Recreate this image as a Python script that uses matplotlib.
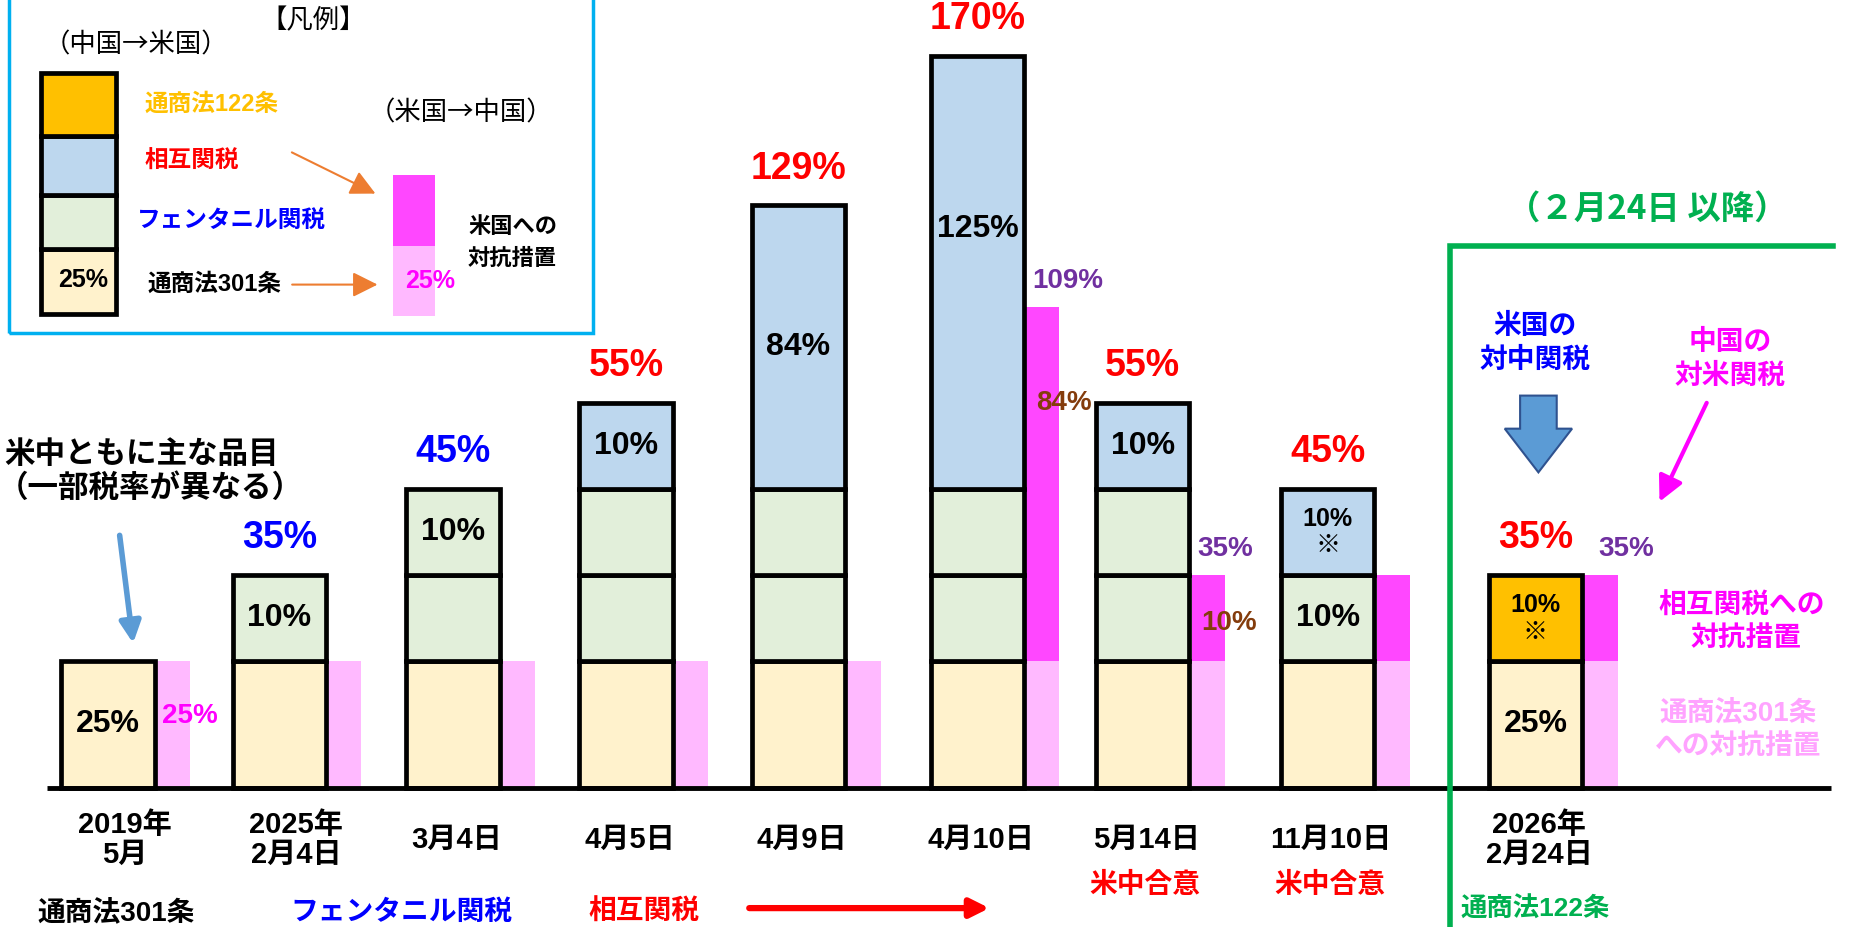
import matplotlib
matplotlib.use("Agg")
import matplotlib.pyplot as plt
from matplotlib.patches import Rectangle, FancyArrow

plt.rcParams["font.family"] = ["Liberation Sans", "Noto Sans CJK JP"]
plt.rcParams["font.weight"] = "bold"
CJK = ["Noto Sans CJK JP", "Liberation Sans"]

# ---------------- data ----------------
dates = ["2019年\n5月", "2025年\n2月4日", "3月4日", "4月5日", "4月9日",
         "4月10日", "5月14日", "11月10日", "2026年\n2月24日"]
us_total = ["", "35%", "45%", "55%", "129%", "170%", "55%", "45%", "35%"]
us_total_color = ["red", "blue", "blue", "red", "red", "red", "red", "red", "red"]

# US tariff on China, stacked bottom -> top as (layer, label)
us_layers = [
    [("s301", "25%")],
    [("s301", ""), ("fent", "10%")],
    [("s301", ""), ("fent", ""), ("fent", "10%")],
    [("s301", ""), ("fent", ""), ("fent", ""), ("recip", "10%")],
    [("s301", ""), ("fent", ""), ("fent", ""), ("recip84", "84%")],
    [("s301", ""), ("fent", ""), ("fent", ""), ("recip125", "125%")],
    [("s301", ""), ("fent", ""), ("fent", ""), ("recip", "10%")],
    [("s301", ""), ("fent", "10%"), ("recip", "10%\n※")],
    [("s301", "25%"), ("s122", "10%\n※")],
]

# China counter-measures: against s301 (always) and against reciprocal
cn_recip = ["none", "none", "none", "none", "none", "big", "small", "small", "small"]
cn_s301_label = ["25%", "", "", "", "", "", "", "", ""]
cn_recip_label = ["", "", "", "", "", "84%", "10%", "", ""]
cn_total = ["", "", "", "", "", "109%", "35%", "", "35%"]

bottom_notes = [("通商法301条", "black"), ("フェンタニル関税", "blue"), ("相互関税", "red")]

# ---------------- style ----------------
FILL = {"s301": "#FFF2CC", "fent": "#E2EFDA", "recip": "#BDD7EE",
        "recip84": "#BDD7EE", "recip125": "#BDD7EE", "s122": "#FFC000"}
BLOCK_H = {"s301": 107, "fent": 73, "recip": 73, "recip84": 240,
           "recip125": 367, "s122": 73}
CN_H = {"none": 0, "big": 300, "small": 73}
MAGENTA = "#FF47FF"
LIGHT_PINK = "#FFB9FF"
PURPLE = "#7030A0"
BROWN = "#843C0C"
GREEN = "#00B050"

centers = [91.5, 236.5, 383.5, 530, 676, 827.5, 967.5, 1124, 1300]
BAR_W = 79
PINK_W = 28
EDGE_LW = 3.4
INK_FONT = 23

fig = plt.figure(figsize=(18.52, 9.27), dpi=100)
ax = fig.add_axes([0, 0, 1, 1])
ax.set_xlim(0, 1568)
ax.set_ylim(-118, 667)
ax.axis("off")

# ---------------- stacked US bars ----------------
for i, (cx, layers) in enumerate(zip(centers, us_layers)):
    bottom = 0
    for kind, label in layers:
        h = BLOCK_H[kind]
        ax.bar(cx, h, bottom=bottom, width=BAR_W, color=FILL[kind],
               edgecolor="black", linewidth=EDGE_LW, zorder=3)
        if label:
            ty = bottom + h / 2
            fs = INK_FONT
            if kind == "recip125":
                ty = bottom + h * 0.6
            if "※" in label:
                fs = 18
            ax.text(cx, ty, label, ha="center", va="center", fontsize=fs,
                    color="black", linespacing=1.15, zorder=5)
        bottom += h
    if us_total[i]:
        ax.text(cx, bottom + 31, us_total[i], ha="center", va="center",
                fontsize=27, color=us_total_color[i], zorder=5)

    # China counter bars
    px = cx + BAR_W / 2 + 2 + PINK_W / 2
    ax.bar(px, BLOCK_H["s301"], bottom=0, width=PINK_W, color=LIGHT_PINK,
           linewidth=0, zorder=2)
    hr = CN_H[cn_recip[i]]
    if hr:
        ax.bar(px, hr, bottom=BLOCK_H["s301"], width=PINK_W, color=MAGENTA,
               linewidth=0, zorder=2)
    if cn_s301_label[i]:
        ax.text(px + 14, BLOCK_H["s301"] / 2 + 7, cn_s301_label[i], ha="center",
                va="center", fontsize=20, color="#FF00FF", zorder=5)
    if cn_recip_label[i]:
        ly = BLOCK_H["s301"] + hr * (0.73 if hr > 100 else 0.45)
        ax.text(px + 18, ly, cn_recip_label[i], ha="center", va="center",
                fontsize=20, color=BROWN, zorder=5)
    if cn_total[i]:
        top = BLOCK_H["s301"] + hr
        dx = 21 if hr > 100 else 14 if i < 8 else 21
        ax.text(px + dx, top + 22, cn_total[i], ha="center", va="center",
                fontsize=20, color=PURPLE, zorder=5)

    # date labels
    ax.text(cx + 14 if i < 2 else cx + 3, -44, dates[i], ha="center",
            va="center", fontsize=21, color="black", linespacing=1.1)

# baseline
ax.plot([40, 1550], [0, 0], color="black", lw=3.5, zorder=4,
        solid_capstyle="butt")

# ---------------- bottom notes ----------------
note_x = [98, 340, 545]
for (txt, col), nx in zip(bottom_notes, note_x):
    ax.text(nx, -106, txt, ha="center", va="center", fontsize=20, color=col)
ax.annotate("", xy=(840, -102), xytext=(632, -102),
            arrowprops=dict(arrowstyle="-|>", color="red", lw=4.5,
                            mutation_scale=28))
for cx in (centers[6], centers[7]):
    ax.text(cx + 2, -83, "米中合意", ha="center", va="center", fontsize=20,
            color="red")
ax.text(centers[8], -103, "通商法122条", ha="center", va="center",
        fontsize=19, color=GREEN)

# ---------------- left annotation ----------------
ax.text(4, 282, "米中ともに主な品目", ha="left", va="center", fontsize=22,
        color="black")
ax.text(256, 253, "（一部税率が異なる）", ha="right", va="center", fontsize=22,
        color="black")
ax.annotate("", xy=(113, 120), xytext=(101, 216),
            arrowprops=dict(arrowstyle="-|>", color="#5B9BD5", lw=4,
                            mutation_scale=32))

# ---------------- legend ----------------
ax.add_patch(Rectangle((8, 385), 494, 300, fill=False, ec="#00B0F0", lw=2.5,
                       zorder=1))
ax.text(265, 649, "【凡例】", ha="center", va="center", fontsize=19,
        fontweight="normal", family=CJK)
ax.text(115, 629, "（中国→米国）", ha="center", va="center", fontsize=19,
        fontweight="normal", family=CJK)
legend_kinds = ["s301", "fent", "recip", "s122"]
legend_h = [55, 46, 50, 53]
legend_labels = [("通商法301条", "black", 125, 426),
                 ("フェンタニル関税", "blue", 116, 480),
                 ("相互関税", "red", 122, 530),
                 ("通商法122条", "#FFC000", 122, 579)]
ly = 401
for kind, h, (txt, col, tx, ty) in zip(legend_kinds, legend_h, legend_labels):
    ax.add_patch(Rectangle((35, ly), 63, h, fc=FILL[kind], ec="black",
                           lw=EDGE_LW, zorder=3))
    ax.text(tx, ty, txt, ha="left", va="center", fontsize=17, color=col)
    ly += h
ax.text(70, 430, "25%", ha="center", va="center", fontsize=18, zorder=5)

ax.text(390, 571, "（米国→中国）", ha="center", va="center", fontsize=19,
        fontweight="normal", family=CJK)
ax.add_patch(Rectangle((333, 399), 35, 60, fc=LIGHT_PINK, lw=0))
ax.add_patch(Rectangle((333, 459), 35, 60, fc=MAGENTA, lw=0))
ax.text(364, 429, "25%", ha="center", va="center", fontsize=18, color="#FF00FF")
ax.text(434, 474, "米国への", ha="center", va="center", fontsize=16)
ax.text(434, 447, "対抗措置", ha="center", va="center", fontsize=16)
for (x0, y0), (x1, y1) in [((245, 539), (320, 502)), ((245, 426), (322, 426))]:
    ax.annotate("", xy=(x1, y1), xytext=(x0, y0),
                arrowprops=dict(arrowstyle="-|>", color="#ED7D31", lw=1.5,
                                mutation_scale=38))

# ---------------- right panel ----------------
ax.plot([1228, 1228, 1552], [-118, 459, 459], color=GREEN, lw=4,
        solid_joinstyle="miter", zorder=4)
ax.text(1395, 490, "（２月24日 以降）", ha="center", va="center", fontsize=24,
        color=GREEN, family=CJK)
ax.text(1300, 391, "米国の", ha="center", va="center", fontsize=20,
        color="blue", family=CJK)
ax.text(1300, 362, "対中関税", ha="center", va="center", fontsize=20,
        color="blue", family=CJK)
ax.add_patch(FancyArrow(1302.5, 332, 0, -65, width=31, head_width=57,
                        head_length=37, length_includes_head=True,
                        fc="#5B9BD5", ec="#2F528F", lw=1.5))
ax.text(1465, 377, "中国の", ha="center", va="center", fontsize=20,
        color="#FF00FF", family=CJK)
ax.text(1465, 349, "対米関税", ha="center", va="center", fontsize=20,
        color="#FF00FF", family=CJK)
ax.annotate("", xy=(1404, 240), xytext=(1446, 328),
            arrowprops=dict(arrowstyle="-|>", color="#FF00FF", lw=3,
                            mutation_scale=38))
ax.text(1475, 154, "相互関税への", ha="center", va="center", fontsize=20,
        color="#FF00FF", family=CJK)
ax.text(1478, 127, "対抗措置", ha="center", va="center", fontsize=20,
        color="#FF00FF", family=CJK)
ax.text(1472, 63, "通商法301条", ha="center", va="center", fontsize=20,
        color="#FFA3FF")
ax.text(1472, 35, "への対抗措置", ha="center", va="center", fontsize=20,
        color="#FFA3FF", family=CJK)

fig.savefig("out.png", dpi=100)
